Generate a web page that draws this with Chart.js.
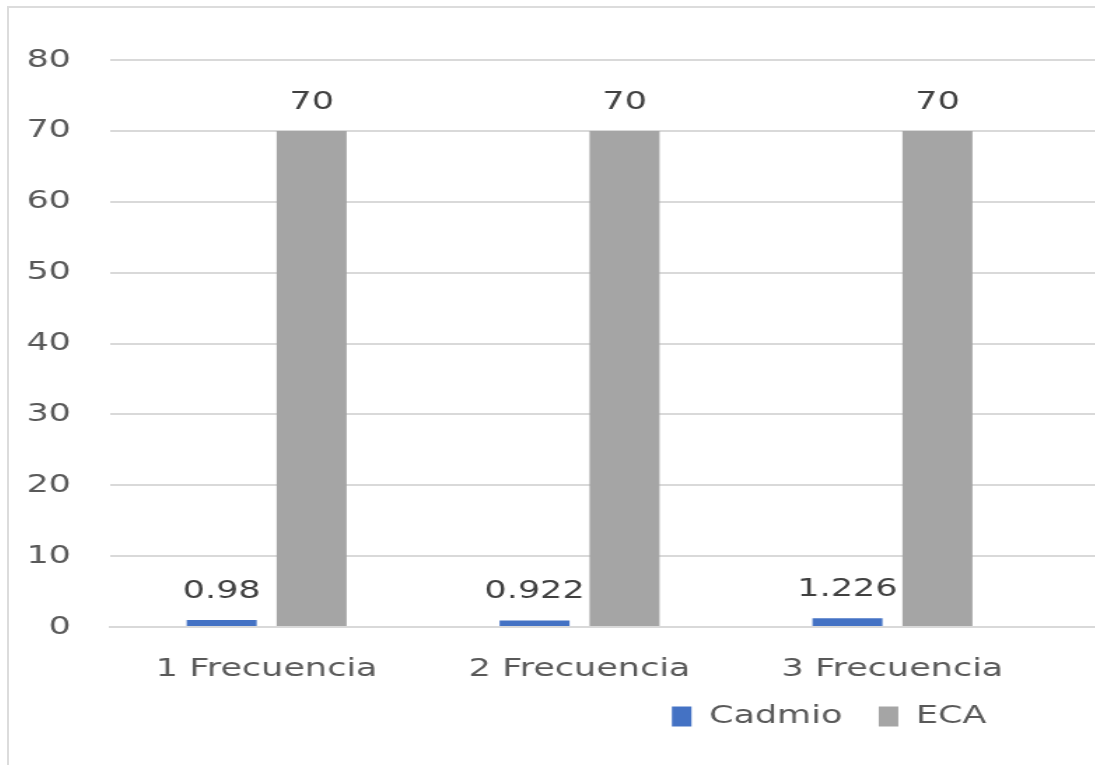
<!DOCTYPE html>
<html>
<head>
<meta charset="utf-8">
<script src="https://cdn.jsdelivr.net/npm/chart.js@4/dist/chart.umd.min.js"></script>
<style>
  html, body { margin: 0; padding: 0; background: #fff; overflow: hidden; width: 1095px; height: 765px; }
  #frame { position: absolute; left: 7px; top: 6px; width: 2000px; height: 900px;
           border-top: 2px solid #dcdcdc; border-left: 2px solid #dcdcdc; }
  #stretch { position: absolute; left: 8px; top: 7px; width: 1173px; height: 758px;
             transform: scaleX(1.4); transform-origin: 0 0; }
</style>
</head>
<body>
<div id="frame"></div>
<div id="stretch"><canvas id="chart" width="1173" height="758"></canvas></div>
<script>
// Categories and series values
const categories = ['1 Frecuencia', '2 Frecuencia', '3 Frecuencia', ''];
const cadmio = [0.98, 0.922, 1.226, null];
const eca = [70, 70, 70, null];
const yMax = 80;
const yStep = 10;

const FONT = '"DejaVu Sans", Verdana, sans-serif';
const FONT_SIZE = 25;

// Writes each bar's value just above it
const valueLabels = {
  id: 'valueLabels',
  afterDatasetsDraw(chart) {
    const ctx = chart.ctx;
    ctx.save();
    ctx.font = FONT_SIZE + 'px ' + FONT;
    ctx.fillStyle = '#404040';
    ctx.textAlign = 'center';
    ctx.textBaseline = 'alphabetic';
    chart.data.datasets.forEach((ds, i) => {
      chart.getDatasetMeta(i).data.forEach((bar, j) => {
        const v = ds.data[j];
        if (v === null || v === undefined) return;
        ctx.fillText(String(v), bar.x, bar.y - 22);
      });
    });
    ctx.restore();
  }
};

new Chart(document.getElementById('chart'), {
  type: 'bar',
  data: {
    labels: categories,
    datasets: [
      { label: 'Cadmio', data: cadmio, backgroundColor: '#4472C4',
        categoryPercentage: 0.575, barPercentage: 0.778 },
      { label: 'ECA', data: eca, backgroundColor: '#A5A5A5',
        categoryPercentage: 0.575, barPercentage: 0.778 }
    ]
  },
  options: {
    responsive: false,
    animation: false,
    devicePixelRatio: 1,
    layout: { padding: { top: 53, left: 0, right: 0, bottom: 26 } },
    plugins: {
      legend: {
        position: 'bottom',
        labels: {
          font: { family: FONT, size: FONT_SIZE },
          color: '#595959',
          boxWidth: 14,
          boxHeight: 20,
          padding: 26
        }
      },
      tooltip: { enabled: false }
    },
    scales: {
      x: {
        grid: { display: false, drawTicks: false },
        border: { display: true, color: '#d9d9d9', width: 2 },
        ticks: { font: { family: FONT, size: FONT_SIZE }, color: '#595959', padding: 27,
                 maxRotation: 0, autoSkip: false },
        afterFit(scale) { scale.height = 51; }
      },
      y: {
        min: 0, max: yMax,
        grid: { color: '#d9d9d9', lineWidth: 2, drawTicks: false },
        border: { display: false },
        ticks: { stepSize: yStep, font: { family: FONT, size: FONT_SIZE }, color: '#595959', padding: 28 },
        afterFit(scale) { scale.width = 73; }
      },
      yRight: {
        position: 'right',
        display: true,
        grid: { display: false, drawTicks: false },
        border: { display: false },
        ticks: { display: false },
        afterFit(scale) { scale.width = 206; }
      }
    }
  },
  plugins: [valueLabels]
});
</script>
</body>
</html>
